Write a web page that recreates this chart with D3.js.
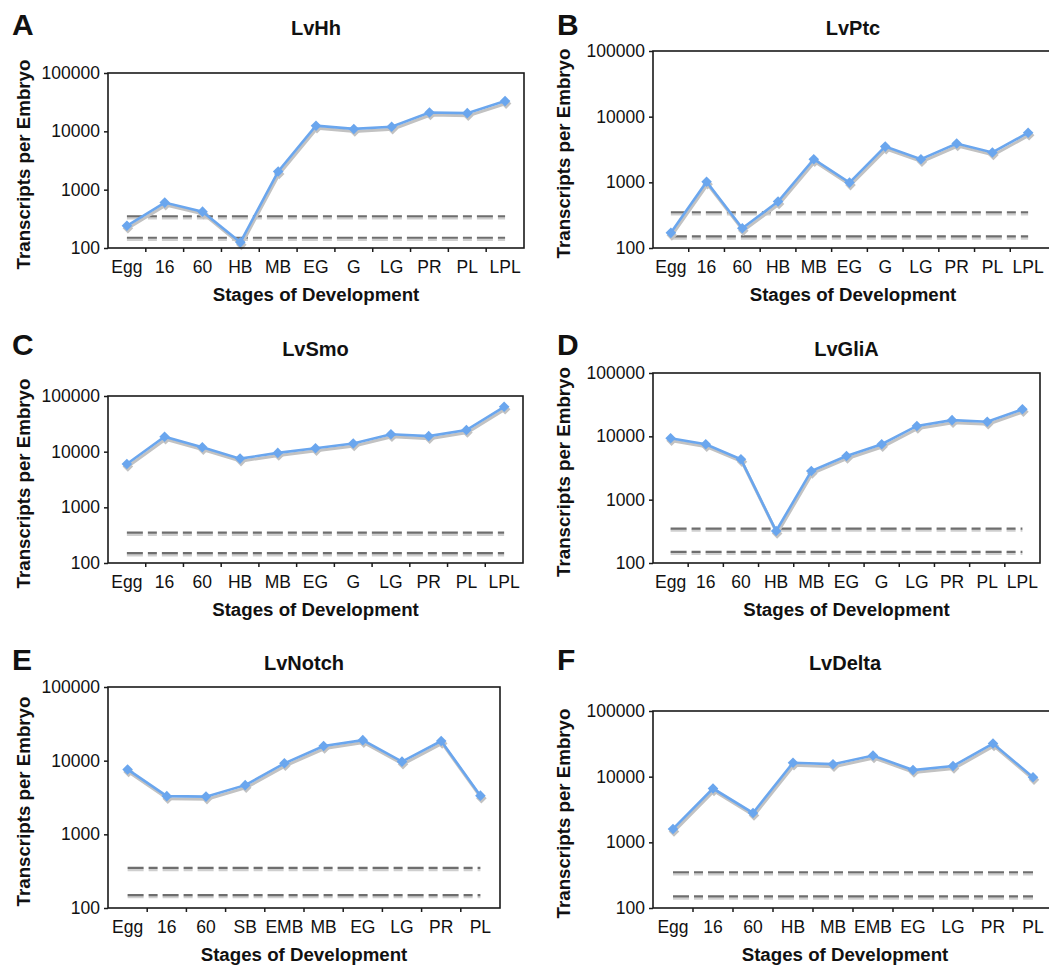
<!DOCTYPE html>
<html>
<head>
<meta charset="utf-8">
<script src="https://cdn.jsdelivr.net/npm/d3@7"></script>
<style>
  body { margin: 0; background: #fff; }
  text { font-family: "Liberation Sans", Arial, Helvetica, sans-serif; fill: #111; }
</style>
</head>
<body>
<div id="chart"></div>
<script>
'use strict';

// stages on the x axis
const stagesHedgehog = ['Egg', '16', '60', 'HB', 'MB', 'EG', 'G', 'LG', 'PR', 'PL', 'LPL'];
const stagesNotch = ['Egg', '16', '60', 'SB', 'EMB', 'MB', 'EG', 'LG', 'PR', 'PL'];
const stagesDelta = ['Egg', '16', '60', 'HB', 'MB', 'EMB', 'EG', 'LG', 'PR', 'PL'];

// transcripts per embryo
const lvHh = [240, 600, 420, 125, 2050, 12500, 11000, 12000, 21000, 20500, 33000];
const lvPtc = [170, 1020, 200, 510, 2250, 990, 3500, 2250, 3900, 2850, 5700];
const lvSmo = [6000, 18500, 12000, 7500, 9500, 11500, 14000, 20500, 19000, 24500, 64000];
const lvGliA = [9300, 7500, 4350, 320, 2840, 4900, 7500, 14600, 18000, 17000, 26800];
const lvNotch = [7600, 3300, 3250, 4650, 9200, 15800, 19000, 9700, 18500, 3350];
const lvDelta = [1600, 6600, 2800, 16300, 15500, 21000, 12600, 14500, 32000, 9800];

// dashed detection limits
const thresholds = [350, 150];
const yTicks = [100, 1000, 10000, 100000];

const width = 1049;
const height = 966;

const panels = [
  { letter: 'A', title: 'LvHh', stages: stagesHedgehog, values: lvHh,
    left: 108, right: 524, top: 73, bottom: 248, letterX: 12, letterY: 35, titleY: 35, ylabX: 23 },
  { letter: 'B', title: 'LvPtc', stages: stagesHedgehog, values: lvPtc,
    left: 653, right: 1046, frameRight: 1053, top: 51, bottom: 248, letterX: 557, letterY: 35, titleY: 35, ylabX: 563 },
  { letter: 'C', title: 'LvSmo', stages: stagesHedgehog, values: lvSmo,
    left: 108, right: 523, top: 396, bottom: 563, letterX: 12, letterY: 355, titleY: 356, ylabX: 23 },
  { letter: 'D', title: 'LvGliA', stages: stagesHedgehog, values: lvGliA,
    left: 653, right: 1040, top: 373, bottom: 563, letterX: 557, letterY: 355, titleY: 356, ylabX: 563 },
  { letter: 'E', title: 'LvNotch', stages: stagesNotch, values: lvNotch,
    left: 108, right: 500, top: 687, bottom: 908, letterX: 12, letterY: 670, titleY: 670, ylabX: 23 },
  { letter: 'F', title: 'LvDelta', stages: stagesDelta, values: lvDelta,
    left: 653, right: 1053, top: 711, bottom: 908, letterX: 557, letterY: 670, titleY: 670, titleX: 845, ylabX: 563 }
];

const svg = d3.select('#chart')
  .append('svg')
  .attr('width', width)
  .attr('height', height);

function drawPanel(p) {
  const g = svg.append('g').attr('class', 'panel');

  const x = d3.scaleBand()
    .domain(p.stages)
    .range([p.left, p.right]);

  const y = d3.scaleLog()
    .domain([100, 100000])
    .range([p.bottom, p.top]);

  const cx = (d) => x(d) + x.bandwidth() / 2;
  const first = p.stages[0];
  const last = p.stages[p.stages.length - 1];

  // dashed threshold lines, with a soft shadow under them
  thresholds.forEach((t) => {
    g.append('line')
      .attr('x1', cx(first)).attr('x2', cx(last))
      .attr('y1', y(t) + 2).attr('y2', y(t) + 2)
      .attr('stroke', '#cfcfcf')
      .attr('stroke-width', 2.5)
      .attr('stroke-dasharray', '16,5,9,5');
    g.append('line')
      .attr('x1', cx(first)).attr('x2', cx(last))
      .attr('y1', y(t)).attr('y2', y(t))
      .attr('stroke', '#6e6e6e')
      .attr('stroke-width', 2.2)
      .attr('stroke-dasharray', '16,5,9,5');
  });

  const line = d3.line()
    .x((d, i) => cx(p.stages[i]))
    .y((d) => y(d));

  // grey drop shadow then the blue series
  g.append('path')
    .datum(p.values)
    .attr('d', line)
    .attr('transform', 'translate(1,2.5)')
    .attr('fill', 'none')
    .attr('stroke', '#c2c2c2')
    .attr('stroke-width', 3);

  const diamond = d3.symbol().type(d3.symbolSquare).size(56);

  g.selectAll('.shadow-pt')
    .data(p.values)
    .enter()
    .append('path')
    .attr('class', 'shadow-pt')
    .attr('d', diamond)
    .attr('fill', '#c2c2c2')
    .attr('transform', (d, i) => `translate(${cx(p.stages[i]) + 1},${y(d) + 2.5}) rotate(45)`);

  g.append('path')
    .datum(p.values)
    .attr('d', line)
    .attr('fill', 'none')
    .attr('stroke', '#6aa6ee')
    .attr('stroke-width', 2.6);

  g.selectAll('.pt')
    .data(p.values)
    .enter()
    .append('path')
    .attr('class', 'pt')
    .attr('d', diamond)
    .attr('fill', '#6aa6ee')
    .attr('transform', (d, i) => `translate(${cx(p.stages[i])},${y(d)}) rotate(45)`);

  // frame
  const frameRight = p.frameRight || p.right;
  g.append('rect')
    .attr('x', p.left)
    .attr('y', p.top)
    .attr('width', frameRight - p.left)
    .attr('height', p.bottom - p.top)
    .attr('fill', 'none')
    .attr('stroke', '#1a1a1a')
    .attr('stroke-width', 1.6);

  // y axis
  const yAxis = d3.axisLeft(y)
    .tickValues(yTicks)
    .tickFormat(d3.format('d'))
    .tickSize(4)
    .tickPadding(4);

  const ya = g.append('g')
    .attr('transform', `translate(${p.left},0)`)
    .call(yAxis);
  ya.select('.domain').remove();
  ya.selectAll('.tick line').attr('stroke', '#1a1a1a').attr('stroke-width', 1.5);
  ya.selectAll('.tick text')
    .attr('font-size', 17.5)
    .attr('fill', '#111');

  // x axis: ticks sit between the stages
  const xa = g.append('g').attr('class', 'x-axis');
  xa.selectAll('.xtick')
    .data(p.stages.slice(1))
    .enter()
    .append('line')
    .attr('x1', (d) => x(d)).attr('x2', (d) => x(d))
    .attr('y1', p.bottom).attr('y2', p.bottom + 4)
    .attr('stroke', '#1a1a1a')
    .attr('stroke-width', 1.5);

  xa.selectAll('.xlabel')
    .data(p.stages)
    .enter()
    .append('text')
    .attr('x', cx)
    .attr('y', p.bottom + 25)
    .attr('text-anchor', 'middle')
    .attr('font-size', 17.5)
    .text((d) => d);

  // texts
  const midX = (p.left + frameRight) / 2;
  g.append('text')
    .attr('x', p.titleX || midX)
    .attr('y', p.titleY)
    .attr('text-anchor', 'middle')
    .attr('font-size', 20)
    .attr('font-weight', 'bold')
    .text(p.title);

  g.append('text')
    .attr('x', p.letterX)
    .attr('y', p.letterY)
    .attr('font-size', 30)
    .attr('font-weight', 'bold')
    .text(p.letter);

  g.append('text')
    .attr('x', p.titleX || midX)
    .attr('y', p.bottom + 53)
    .attr('text-anchor', 'middle')
    .attr('font-size', 18.7)
    .attr('font-weight', 'bold')
    .text('Stages of Development');

  const midY = (p.top + p.bottom) / 2 + 4;
  g.append('text')
    .attr('transform', `translate(${p.ylabX},${midY}) rotate(-90)`)
    .attr('text-anchor', 'middle')
    .attr('dominant-baseline', 'central')
    .attr('font-size', 18.7)
    .attr('font-weight', 'bold')
    .text('Transcripts per Embryo');
}

panels.forEach(drawPanel);
</script>
</body>
</html>
